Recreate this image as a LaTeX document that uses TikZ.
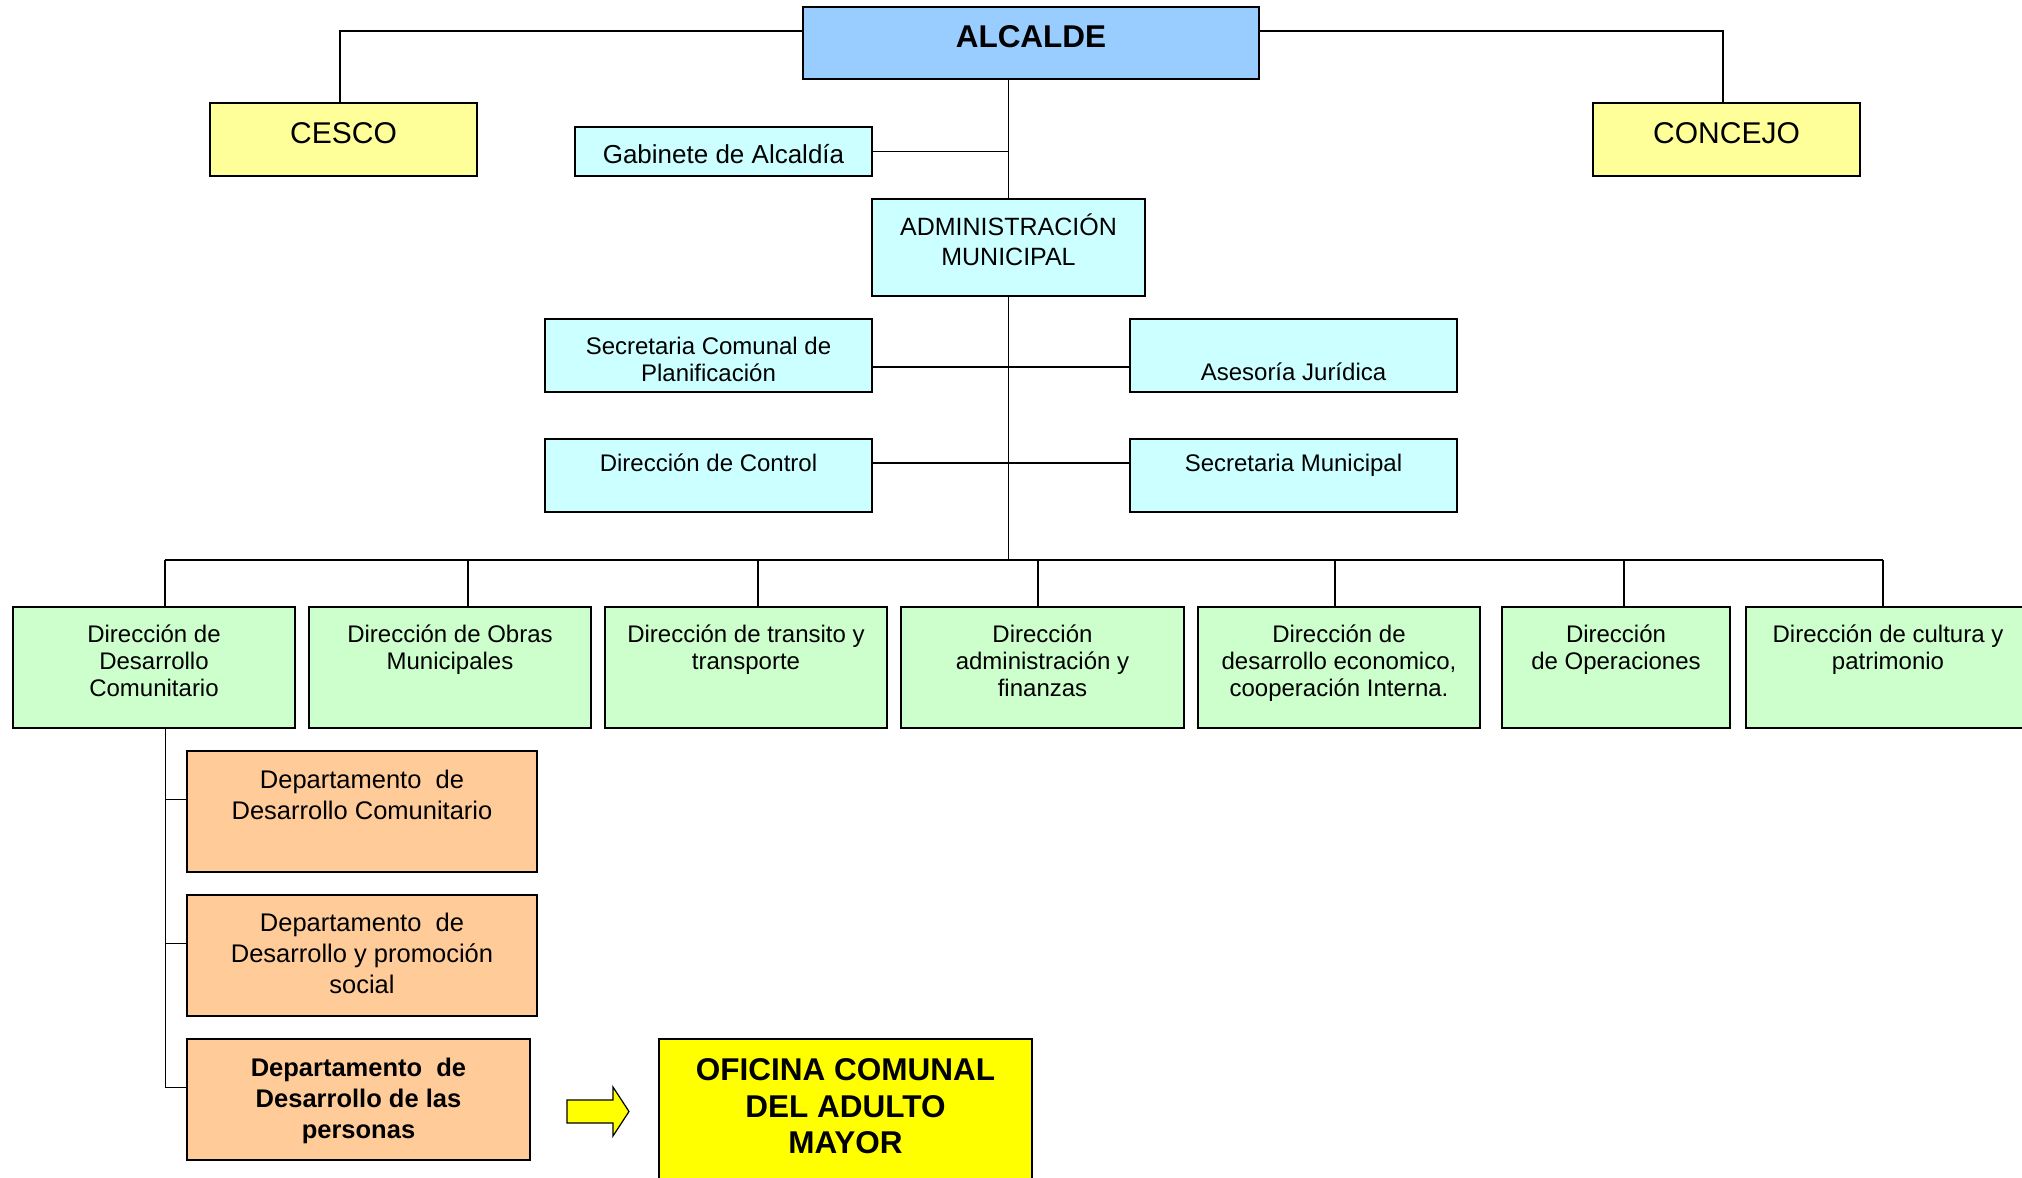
\documentclass[tikz,border=0pt]{standalone}
\usepackage{fontspec}
\setmainfont{Liberation Sans}
\definecolor{boxblue}{HTML}{99CCFF}
\definecolor{boxlemon}{HTML}{FFFF99}
\definecolor{boxcyan}{HTML}{CCFFFF}
\definecolor{boxgreen}{HTML}{CCFFCC}
\definecolor{boxpeach}{HTML}{FFCC99}
\definecolor{boxyellow}{HTML}{FFFF00}
\begin{document}
\begin{tikzpicture}[x=1pt,y=-1pt,
  box/.style={draw=black, line width=2pt, rectangle, inner sep=0pt},
  lbl/.style={anchor=north, inner sep=0pt, align=center,
              execute at begin node={\rule{0pt}{1em}}},
  link/.style={draw=black, line width=1.8pt},
  fbig/.style={font=\fontsize{30}{35}\selectfont},
  fboldbig/.style={font=\bfseries\fontsize{31.5}{36.5}\selectfont},
  fmid/.style={font=\fontsize{26}{30}\selectfont},
  fadm/.style={font=\fontsize{25}{30}\selectfont},
  fsmall/.style={font=\fontsize{24}{27}\selectfont},
  fdept/.style={font=\fontsize{25.5}{31}\selectfont},
  fdeptb/.style={font=\bfseries\fontsize{25.5}{31}\selectfont}]

\useasboundingbox (0,0) rectangle (2022,1178);

% ---- top level
\node[box, fill=boxblue, minimum width=456pt, minimum height=72pt] (alc) at (1031,43) {};
\node[lbl, fboldbig] (alc-t) at (1031,16) {ALCALDE};

\node[box, fill=boxlemon, minimum width=267pt, minimum height=73pt] (cesco) at (343.5,139.5) {};
\node[lbl, fbig] (cesco-t) at (343.5,113) {CESCO};

\node[box, fill=boxlemon, minimum width=267pt, minimum height=73pt] (conc) at (1726.5,139.5) {};
\node[lbl, fbig] (conc-t) at (1726.5,113) {CONCEJO};

\node[box, fill=boxcyan, minimum width=297pt, minimum height=49pt] (gab) at (723.5,151.5) {};
\node[lbl, fmid] (gab-t) at (723.5,137) {Gabinete de Alcaldía};

\node[box, fill=boxcyan, minimum width=273pt, minimum height=97pt] (adm) at (1008.5,247.5) {};
\node[lbl, fadm] (adm-t) at (1008.5,214) {ADMINISTRACIÓN\\MUNICIPAL};

% ---- staff units
\node[box, fill=boxcyan, minimum width=327pt, minimum height=73pt] (secc) at (708.5,355.5) {};
\node[lbl, fsmall] (secc-t) at (708.5,337) {Secretaria Comunal de\\Planificación};

\node[box, fill=boxcyan, minimum width=327pt, minimum height=73pt] (asj) at (1293.5,355.5) {};
\node[lbl, fsmall] (asj-t) at (1293.5,356) {Asesoría Jurídica};

\node[box, fill=boxcyan, minimum width=327pt, minimum height=73pt] (ctrl) at (708.5,475.5) {};
\node[lbl, fsmall] (ctrl-t) at (708.5,447) {Dirección de Control};

\node[box, fill=boxcyan, minimum width=327pt, minimum height=73pt] (smun) at (1293.5,475.5) {};
\node[lbl, fsmall] (smun-t) at (1293.5,447) {Secretaria Municipal};

% ---- directorates
\node[box, fill=boxgreen, minimum width=282pt, minimum height=121pt] (g1) at (154,667.5) {};
\node[lbl, fsmall] (g1-t) at (154,625) {Dirección de\\Desarrollo\\Comunitario};

\node[box, fill=boxgreen, minimum width=282pt, minimum height=121pt] (g2) at (450,667.5) {};
\node[lbl, fsmall] (g2-t) at (450,625) {Dirección de Obras\\Municipales};

\node[box, fill=boxgreen, minimum width=282pt, minimum height=121pt] (g3) at (746,667.5) {};
\node[lbl, fsmall] (g3-t) at (746,625) {Dirección de transito y\\transporte};

\node[box, fill=boxgreen, minimum width=283pt, minimum height=121pt] (g4) at (1042.5,667.5) {};
\node[lbl, fsmall] (g4-t) at (1042.5,625) {Dirección\\administración y\\finanzas};

\node[box, fill=boxgreen, minimum width=282pt, minimum height=121pt] (g5) at (1339,667.5) {};
\node[lbl, fsmall] (g5-t) at (1339,625) {Dirección de\\desarrollo economico,\\cooperación Interna.};

\node[box, fill=boxgreen, minimum width=228pt, minimum height=121pt] (g6) at (1616,667.5) {};
\node[lbl, fsmall] (g6-t) at (1616,625) {Dirección\\de Operaciones};

\node[box, fill=boxgreen, minimum width=284pt, minimum height=121pt] (g7) at (1888,667.5) {};
\node[lbl, fsmall] (g7-t) at (1888,625) {Dirección de cultura y\\patrimonio};

% ---- departments
\node[box, fill=boxpeach, minimum width=350pt, minimum height=121pt] (dep1) at (362,811.5) {};
\node[lbl, fdept] (dep1-t) at (362,769.5) {Departamento~ de\\Desarrollo Comunitario};

\node[box, fill=boxpeach, minimum width=350pt, minimum height=121pt] (dep2) at (362,955.5) {};
\node[lbl, fdept] (dep2-t) at (362,912.5) {Departamento~ de\\Desarrollo y promoción\\social};

\node[box, fill=boxpeach, minimum width=343pt, minimum height=121pt] (dep3) at (358.5,1099.5) {};
\node[lbl, fdeptb] (dep3-t) at (358.5,1057.5) {Departamento~ de\\Desarrollo de las\\personas};

\node[box, fill=boxyellow, minimum width=373pt, minimum height=171pt] (ofi) at (845.5,1124.5) {};
\node[lbl, fboldbig] (ofi-t) at (845.5,1058.5) {OFICINA COMUNAL\\DEL ADULTO\\MAYOR};

% block arrow pointing at the office
\draw[fill=boxyellow, draw=black, line width=1.2pt]
  (567,1100) -- (613,1100) -- (613,1087) -- (629,1111.5)
  -- (613,1136) -- (613,1123) -- (567,1123) -- cycle;

% ---- connectors
\draw[link] ([yshift=12pt]alc.west) -| ([xshift=-3.5pt]cesco.north);
\draw[link] ([yshift=12pt]alc.east) -| ([xshift=-3.5pt]conc.north);
\draw[link] (adm.north) -- (adm.north |- alc.south);
\draw[link] (gab.east) -- (gab.east -| adm.north);

\coordinate (bus) at (1008.5,560);
\draw[link] (adm.south) -- (bus);
\draw[link] ([yshift=-11.5pt]secc.east) -- ([yshift=-11.5pt]asj.west);
\draw[link] ([yshift=12.5pt]ctrl.east) -- ([yshift=12.5pt]smun.west);

\coordinate (bl) at ([xshift=11pt]g1.north |- bus);
\coordinate (br) at ([xshift=-5pt]g7.north |- bus);
\draw[link] (bl) -- (br);
\draw[link] ([xshift=11pt]g1.north) -- (bl);
\draw[link] ([xshift=18pt]g2.north) -- ([xshift=18pt]g2.north |- bus);
\draw[link] ([xshift=12pt]g3.north) -- ([xshift=12pt]g3.north |- bus);
\draw[link] ([xshift=-4.5pt]g4.north) -- ([xshift=-4.5pt]g4.north |- bus);
\draw[link] ([xshift=-4pt]g5.north) -- ([xshift=-4pt]g5.north |- bus);
\draw[link] ([xshift=8pt]g6.north) -- ([xshift=8pt]g6.north |- bus);
\draw[link] ([xshift=-5pt]g7.north) -- (br);

\coordinate (spine) at ([xshift=11.5pt]g1.south);
\draw[link] (spine) |- ([yshift=12pt]dep3.west);
\draw[link] ([yshift=12pt]dep1.west) -- ([yshift=12pt]dep1.west -| spine);
\draw[link] ([yshift=12pt]dep2.west) -- ([yshift=12pt]dep2.west -| spine);
\end{tikzpicture}
\end{document}
